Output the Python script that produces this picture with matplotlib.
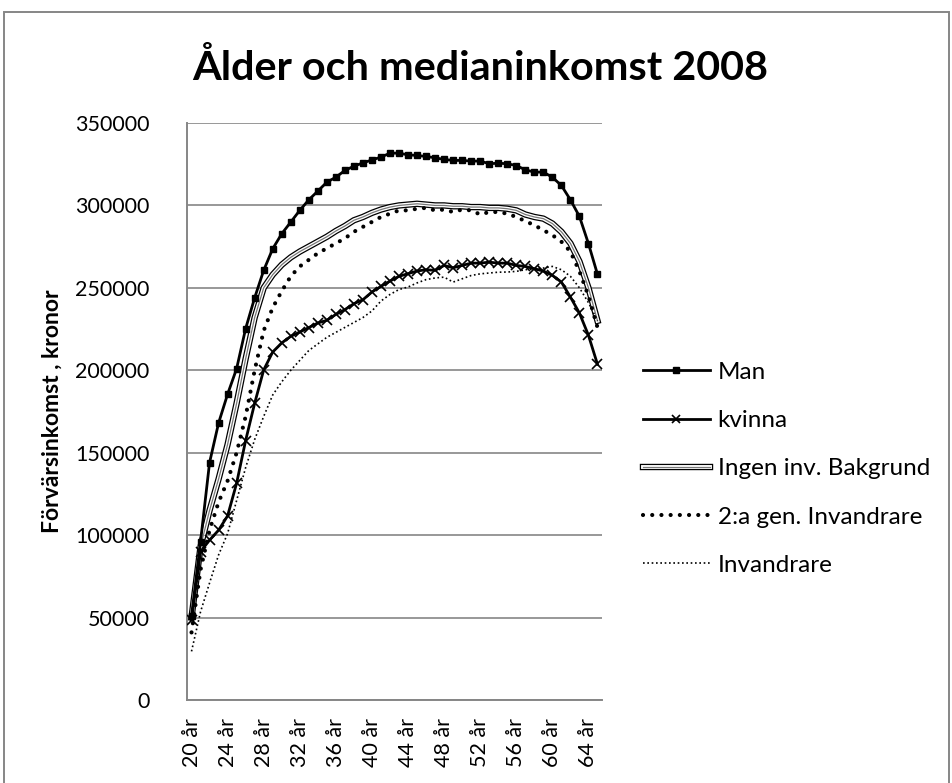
"""Ålder och medianinkomst 2008"""

import matplotlib
matplotlib.use("Agg")
import matplotlib.pyplot as plt
from matplotlib.lines import Line2D
from matplotlib.patches import Rectangle

ages = list(range(20, 66))
age_labels = [f"{a} år" for a in ages]

man = [51000, 96000, 144000, 168000, 185500, 201000, 225300, 244000, 260600, 273700,
       282800, 289900, 297000, 303400, 308700, 314100, 317100, 321200, 323800, 325800,
       327600, 329300, 331700, 331700, 330700, 330300, 329700, 328900, 327900, 327300,
       327300, 326900, 326900, 325300, 325600, 325300, 324200, 321600, 320200, 320200,
       317100, 312100, 303400, 293300, 276800, 258200]

kvinna = [48500, 90000, 97000, 103000, 111700, 131500, 157400, 180000, 200200, 211100,
          216600, 220600, 223200, 225900, 228700, 230300, 233900, 236800, 240400, 242800,
          247500, 250900, 254100, 257000, 258600, 260200, 261000, 260600, 263600, 262200,
          263600, 265000, 265000, 265600, 265000, 265000, 263600, 263000, 261600, 260200,
          257600, 253500, 244400, 234700, 221200, 203600]

ingen = [50000, 93000, 115000, 134000, 155000, 180000, 207000, 232000, 250000, 258000,
         264000, 268500, 272000, 275000, 278000, 281000, 284500, 287500, 291000, 293000,
         295500, 297500, 299000, 300000, 300500, 301000, 300500, 300000, 300000, 299500,
         299500, 299000, 299000, 298500, 298500, 298000, 297000, 294500, 293000, 292000,
         289000, 284000, 277000, 266000, 250000, 230000]

andra_gen = [41000, 79000, 103000, 120000, 133000, 150000, 172000, 200000, 224000, 238000,
             248000, 257000, 263000, 267000, 271000, 274000, 277000, 280000, 284000, 287000,
             290000, 293000, 295000, 297000, 297000, 298000, 298500, 297000, 297500, 296000,
             297500, 297000, 294500, 296000, 296000, 295000, 293000, 290500, 288000, 285000,
             282000, 278000, 272000, 260000, 245000, 226000]

invandrare = [29500, 53500, 71000, 88000, 101000, 121000, 141000, 158000, 172000, 185000,
              193000, 200000, 206000, 212000, 216000, 220000, 223000, 226000, 229000, 232000,
              236000, 242000, 246000, 249000, 250500, 253000, 255000, 256000, 256500, 253500,
              255500, 257500, 258500, 259000, 259500, 259600, 260000, 261000, 261500, 262000,
              263000, 261000, 257000, 250000, 241000, 230000]

series_names = ["Man", "kvinna", "Ingen inv. Bakgrund", "2:a gen. Invandrare", "Invandrare"]

font = "Lato"
grid_col = "#868686"

fig = plt.figure(figsize=(9.52, 7.83), dpi=100)
ax = fig.add_axes([187 / 952, 1 - 700 / 783, 415 / 952, 577 / 783])

x = list(range(len(ages)))

# Man
ax.plot(x, man, color="black", lw=2.0, marker="s", markersize=5, zorder=5)
# kvinna
ax.plot(x, kvinna, color="black", lw=2.0, marker="x", markersize=7, mew=1.2, zorder=5)
# Ingen inv. bakgrund - dubbel linje
ax.plot(x, ingen, color="black", lw=4.6, solid_joinstyle="round", zorder=3)
ax.plot(x, ingen, color="white", lw=2.8, solid_joinstyle="round", zorder=3)
ax.plot(x, ingen, color="#777777", lw=0.9, solid_joinstyle="round", zorder=3)
# 2:a gen
ax.plot(x, andra_gen, color="black", lw=3.0, linestyle=(0, (0.01, 2.2)),
        dash_capstyle="round", zorder=4)
# Invandrare
ax.plot(x, invandrare, color="black", lw=1.2, linestyle=(0, (1, 1.6)), zorder=4)

ax.set_xlim(-0.5, len(ages) - 0.5)
ax.set_ylim(0, 350000)
ax.set_yticks(range(0, 350001, 50000))
ax.set_yticklabels([str(v) for v in range(0, 350001, 50000)],
                   fontsize=15.5, family=font)
ax.set_xticks(x[::4])
ax.set_xticklabels(age_labels[::4], rotation=90, fontsize=15.5, family=font)
ax.tick_params(axis="both", length=0)
ax.tick_params(axis="y", pad=27)
ax.tick_params(axis="x", pad=13)

ax.grid(axis="y", color=grid_col, lw=1.2)
ax.set_axisbelow(True)
for side in ["top", "right"]:
    ax.spines[side].set_visible(False)
for side in ["left", "bottom"]:
    ax.spines[side].set_color(grid_col)
    ax.spines[side].set_linewidth(1.4)

ax.set_ylabel("Förvärsinkomst , kronor", fontsize=16.5, fontweight="bold",
              family=font, labelpad=9)

fig.text(480 / 952, 1 - 68 / 783, "Ålder och medianinkomst 2008", ha="center",
         va="center", fontsize=29.8, fontweight="bold", family=font)

# legend
handles = [
    Line2D([], [], color="black", lw=2.0, marker="s", markersize=5),
    Line2D([], [], color="black", lw=2.0, marker="x", markersize=6, mew=1.2),
    (Line2D([], [], color="black", lw=4.6),
     Line2D([], [], color="white", lw=2.8),
     Line2D([], [], color="#777777", lw=0.9)),
    Line2D([], [], color="black", lw=3.0, linestyle=(0, (0.01, 2.2)),
           dash_capstyle="round"),
    Line2D([], [], color="black", lw=1.2, linestyle=(0, (1, 1.6))),
]
fig.legend(handles, series_names, loc="upper left",
           bbox_to_anchor=(621 / 952, 1 - 340 / 783), frameon=False,
           prop={"family": font, "size": 17.5}, handlelength=2.75,
           handletextpad=0.33, labelspacing=1.12)

# chart border
fig.patches.append(Rectangle((4 / 952, -0.02), 945 / 952, 1 + 0.02 - 12 / 783,
                             transform=fig.transFigure, fill=False,
                             edgecolor=grid_col, lw=1.4))

fig.savefig("out.png", dpi=100)
